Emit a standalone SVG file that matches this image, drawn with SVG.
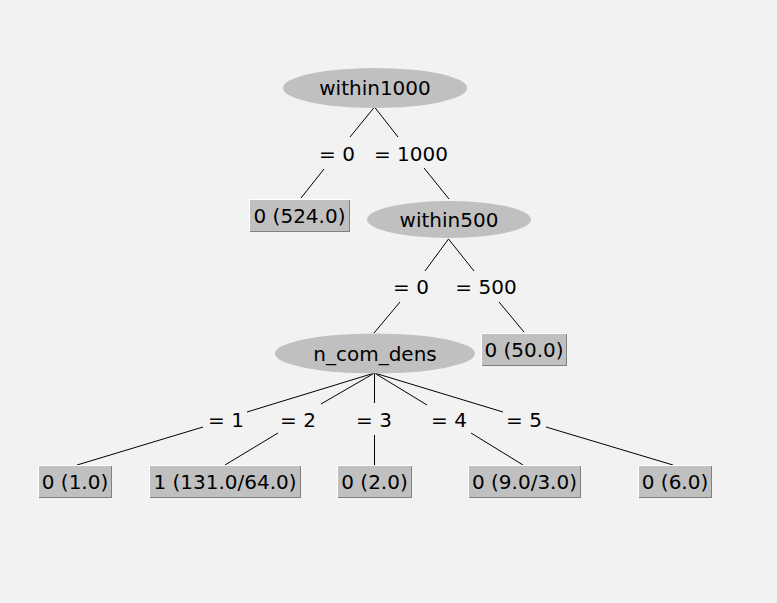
<svg xmlns="http://www.w3.org/2000/svg" width="777" height="603" viewBox="0 0 777 603">
<style>
text { font-family: "DejaVu Sans", "Liberation Sans", sans-serif; font-size: 20px; fill: #000; text-anchor: middle; dominant-baseline: central; }
.node ellipse { fill: #c0c0c0; stroke: none; }
.leaf rect { fill: #c0c0c0; stroke: none; shape-rendering: crispEdges; }
.hi { stroke: #ffffff; stroke-width: 1; fill: none; shape-rendering: crispEdges; }
.lo { stroke: #808080; stroke-width: 1; fill: none; shape-rendering: crispEdges; }
#edges line { stroke: #000; stroke-width: 1; }
</style>
<rect x="0" y="0" width="777" height="603" fill="#f2f2f2"/>

<g id="edges">
  <line x1="374.5" y1="107" x2="350" y2="137"/>
  <line x1="374.5" y1="107" x2="398" y2="137"/>
  <line x1="324" y1="169" x2="301" y2="198"/>
  <line x1="424" y1="168" x2="449" y2="199"/>
  <line x1="448.5" y1="239" x2="425" y2="271"/>
  <line x1="448.5" y1="239" x2="474" y2="271"/>
  <line x1="400" y1="302" x2="374" y2="333"/>
  <line x1="499" y1="302" x2="524" y2="332"/>
  <line x1="374.5" y1="373" x2="247" y2="412"/>
  <line x1="374.5" y1="373" x2="321" y2="404"/>
  <line x1="374.5" y1="373" x2="374.5" y2="403"/>
  <line x1="374.5" y1="373" x2="427" y2="405"/>
  <line x1="374.5" y1="373" x2="503" y2="412"/>
  <line x1="203" y1="427" x2="77" y2="465"/>
  <line x1="278" y1="433" x2="225" y2="465"/>
  <line x1="374.5" y1="435" x2="374.5" y2="465"/>
  <line x1="471" y1="433" x2="523" y2="465"/>
  <line x1="546" y1="427" x2="673" y2="465"/>
</g>

<g id="edge-labels">
  <text x="337" y="154">= 0</text>
  <text x="411" y="154">= 1000</text>
  <text x="411" y="287">= 0</text>
  <text x="486" y="287">= 500</text>
  <text x="226" y="420">= 1</text>
  <text x="298" y="420">= 2</text>
  <text x="374" y="420">= 3</text>
  <text x="449" y="420">= 4</text>
  <text x="524" y="420">= 5</text>
</g>

<g id="within1000" class="node">
  <ellipse cx="375" cy="88" rx="92" ry="20"/>
  <text x="375" y="88">within1000</text>
</g>

<g id="leaf-524" class="leaf">
  <rect x="249" y="199" width="101" height="33"/>
  <path class="hi" d="M249.5,231.5 V199.5 H349.5"/>
  <path class="lo" d="M349.5,199.5 V231.5 H249.5"/>
  <text x="299.5" y="215.5">0 (524.0)</text>
</g>

<g id="within500" class="node">
  <ellipse cx="449" cy="219.5" rx="82" ry="18.5"/>
  <text x="449" y="220">within500</text>
</g>

<g id="leaf-50" class="leaf">
  <rect x="481" y="333" width="86" height="33"/>
  <path class="hi" d="M481.5,365.5 V333.5 H566.5"/>
  <path class="lo" d="M566.5,333.5 V365.5 H481.5"/>
  <text x="524" y="349.5">0 (50.0)</text>
</g>

<g id="n_com_dens" class="node">
  <ellipse cx="375" cy="353.5" rx="100" ry="20"/>
  <text x="375" y="354">n_com_dens</text>
</g>

<g id="leaf-1" class="leaf">
  <rect x="38" y="465" width="74" height="33"/>
  <path class="hi" d="M38.5,497.5 V465.5 H111.5"/>
  <path class="lo" d="M111.5,465.5 V497.5 H38.5"/>
  <text x="75" y="481.5">0 (1.0)</text>
</g>

<g id="leaf-2" class="leaf">
  <rect x="149" y="465" width="152" height="33"/>
  <path class="hi" d="M149.5,497.5 V465.5 H300.5"/>
  <path class="lo" d="M300.5,465.5 V497.5 H149.5"/>
  <text x="225" y="481.5">1 (131.0/64.0)</text>
</g>

<g id="leaf-3" class="leaf">
  <rect x="337" y="465" width="75" height="33"/>
  <path class="hi" d="M337.5,497.5 V465.5 H411.5"/>
  <path class="lo" d="M411.5,465.5 V497.5 H337.5"/>
  <text x="374.5" y="481.5">0 (2.0)</text>
</g>

<g id="leaf-4" class="leaf">
  <rect x="468" y="465" width="113" height="33"/>
  <path class="hi" d="M468.5,497.5 V465.5 H580.5"/>
  <path class="lo" d="M580.5,465.5 V497.5 H468.5"/>
  <text x="524.5" y="481.5">0 (9.0/3.0)</text>
</g>

<g id="leaf-5" class="leaf">
  <rect x="638" y="465" width="74" height="33"/>
  <path class="hi" d="M638.5,497.5 V465.5 H711.5"/>
  <path class="lo" d="M711.5,465.5 V497.5 H638.5"/>
  <text x="675" y="481.5">0 (6.0)</text>
</g>
</svg>
